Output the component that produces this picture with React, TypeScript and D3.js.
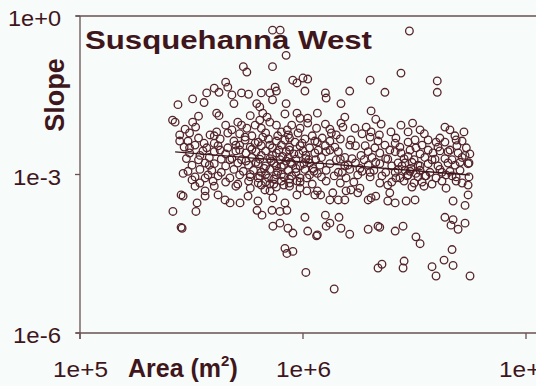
import React from "react";
import { scaleLog, line } from "d3";

// [area m², slope]
const upperPoints: [number, number][] = [
  [7.3e5, 5.4e-1], [7.9e5, 5.4e-1], [8.4e5, 1.8e-1], [7.3e5, 1.1e-1], [5.4e5, 1.1e-1],
  [5.6e5, 8.7e-2], [4.5e5, 5.6e-2], [4.6e5, 4.5e-2], [4.0e5, 4.3e-2], [4.2e5, 3.6e-2],
  [3.7e5, 3.5e-2], [3.2e5, 2.7e-2], [3.6e5, 2.3e-2], [2.75e5, 2.1e-2], [4.8e5, 3.2e-2],
  [4.9e5, 2.2e-2], [5.3e5, 3.5e-2], [5.7e5, 3.3e-2], [6.5e5, 3.5e-2], [7.1e5, 3.5e-2],
  [7.5e5, 4.5e-2], [7.6e5, 3.8e-2], [9.0e5, 6.1e-2], [9.4e5, 5.4e-2], [1.0e6, 6.7e-2],
  [1.05e6, 6.4e-2], [1.02e6, 3.8e-2], [6.2e5, 2.2e-2], [6.4e5, 1.9e-2], [7.3e5, 2.6e-2],
  [8.4e5, 2.2e-2], [4.1e5, 1.45e-2], [4.2e5, 1.3e-2], [3.4e5, 1.27e-2], [3.2e5, 9.8e-3],
  [2.6e5, 1.07e-2], [2.67e5, 9.8e-3], [5.8e5, 1.3e-2], [6.6e5, 1.45e-2], [6.9e5, 1.22e-2],
  [8.3e5, 1.4e-2], [9.4e5, 1.45e-2], [9.7e5, 1.16e-2], [1.05e6, 1.16e-2], [2.8e5, 4.3e-3],
  [3.0e6, 5.2e-1], [2.75e6, 8.3e-2], [2.0e6, 6.1e-2], [4.0e6, 5.9e-2], [4.0e6, 3.6e-2],
  [1.26e6, 3.5e-2], [1.27e6, 2.8e-2], [1.62e6, 3.8e-2], [2.33e6, 3.6e-2], [1.48e6, 2.2e-2],
  [1.16e6, 1.45e-2], [1.54e6, 1.22e-2], [1.48e6, 9.4e-3], [1.51e6, 7.9e-3], [1.26e6, 9.0e-3],
  [2.02e6, 1.6e-2], [2.12e6, 1.11e-2], [2.24e6, 9.0e-3], [1.92e6, 7.9e-3], [2.02e6, 6.4e-3],
  [2.0e6, 5.1e-3], [2.75e6, 8.6e-3], [3.1e6, 9.4e-3], [2.96e6, 6.4e-3], [2.48e6, 6.4e-3],
  [2.61e6, 4.9e-3], [4.56e6, 7.0e-3], [5.27e6, 6.4e-3], [5.6e6, 2.45e-3], [1.34e6, 6.1e-3],
  [1.41e6, 5.6e-3], [1.64e6, 4.5e-3], [1.72e6, 3.5e-3], [1.62e6, 3.6e-3], [1.22e6, 4.9e-3],
  [1.16e6, 4.1e-3], [2.33e6, 3.6e-3], [2.59e6, 3.9e-3], [2.45e6, 2.9e-3], [2.96e6, 4.1e-3],
  [3.21e6, 3.2e-3], [3.64e6, 4.5e-3], [3.95e6, 4.1e-3], [4.33e6, 4.1e-3], [4.11e6, 4.9e-3],
  [3.64e6, 2.9e-3], [3.83e6, 2.55e-3], [4.56e6, 2.9e-3], [1.96e6, 2.7e-3], [2.1e6, 3.2e-3],
  [1.82e6, 2.3e-3], [1.44e6, 2.7e-3], [1.54e6, 2.1e-3], [2.75e6, 2.55e-3], [2.96e6, 2.2e-3],
  [3.83e5, 5.6e-3], [4.1e5, 6.4e-3], [4.5e5, 8.6e-3], [4.6e5, 6.1e-3], [5.1e5, 9.8e-3],
  [5.3e5, 8.6e-3], [5.6e5, 7.5e-3], [6.1e5, 8.6e-3], [6.4e5, 1.07e-2], [7.1e5, 9.8e-3],
  [7.6e5, 8.6e-3], [8.0e5, 6.4e-3], [8.9e5, 8.6e-3], [9.7e5, 7.5e-3], [1.05e6, 9.4e-3],
  [1.15e6, 7.5e-3], [3.6e5, 3.9e-3], [4.0e5, 3.9e-3], [3.4e5, 4.9e-3], [3.1e5, 3.2e-3],
  [3.7e5, 3.2e-3],
];

const corePoints: [number, number][] = [
  [2.96e5, 7.2e-3], [3.3e5, 7.9e-3], [4.8e5, 7.0e-3], [6.5e5, 7.5e-3], [8.5e5, 7.0e-3],
  [1.32e6, 7.2e-3], [1.71e6, 7.5e-3], [3.35e6, 7.0e-3], [4.33e6, 7.9e-3],
  [2.8e5, 5.6e-3], [3.1e5, 6.1e-3], [4.0e5, 5.4e-3], [5.2e5, 5.9e-3], [5.9e5, 5.4e-3],
  [6.8e5, 6.1e-3], [8.6e5, 5.6e-3], [9.5e5, 6.1e-3], [1.1e6, 5.4e-3], [1.84e6, 5.9e-3],
  [2.2e6, 5.6e-3], [3.5e6, 5.9e-3], [4.8e6, 5.4e-3],
  [3.05e5, 4.3e-3], [4.25e5, 4.7e-3], [4.9e5, 4.3e-3], [5.5e5, 4.5e-3], [6.3e5, 4.1e-3],
  [7.0e5, 4.7e-3], [7.6e5, 4.3e-3], [8.3e5, 4.5e-3], [9.2e5, 4.1e-3], [1.02e6, 4.7e-3],
  [1.32e6, 4.3e-3], [1.47e6, 4.7e-3], [2.17e6, 4.3e-3], [3.18e6, 4.5e-3], [5.17e6, 4.3e-3],
  [2.93e5, 3.3e-3], [3.28e5, 3.6e-3], [4.16e5, 3.5e-3], [4.6e5, 3.2e-3], [5.2e5, 3.6e-3],
  [5.8e5, 3.3e-3], [6.5e5, 3.5e-3], [7.3e5, 3.2e-3], [8.0e5, 3.6e-3], [8.7e5, 3.3e-3],
  [9.7e5, 3.5e-3], [1.07e6, 3.2e-3], [1.26e6, 3.5e-3], [1.39e6, 3.3e-3], [1.9e6, 3.5e-3],
  [2.72e6, 3.3e-3], [3.42e6, 3.6e-3], [4.9e6, 3.5e-3], [5.4e6, 3.2e-3],
  [3.1e5, 2.55e-3], [3.56e5, 2.8e-3], [4.0e5, 2.7e-3], [4.5e5, 2.45e-3], [5.0e5, 2.8e-3],
  [5.55e5, 2.55e-3], [6.15e5, 2.7e-3], [6.8e5, 2.8e-3], [7.6e5, 2.55e-3], [8.4e5, 2.7e-3],
  [9.1e5, 2.45e-3], [1.0e6, 2.8e-3], [1.13e6, 2.55e-3], [1.27e6, 2.7e-3], [2.21e6, 2.55e-3],
  [2.59e6, 2.7e-3], [3.35e6, 2.45e-3], [4.11e6, 2.8e-3], [4.96e6, 2.55e-3], [5.33e6, 2.3e-3],
  [3.0e5, 2.0e-3], [3.4e5, 1.9e-3], [3.8e5, 2.1e-3], [4.3e5, 1.95e-3], [4.8e5, 2.0e-3],
  [5.3e5, 1.9e-3], [5.9e5, 2.1e-3], [6.4e5, 1.95e-3], [7.1e5, 2.0e-3], [7.9e5, 1.9e-3],
  [8.6e5, 2.1e-3], [9.3e5, 1.95e-3], [1.03e6, 2.0e-3], [1.14e6, 1.9e-3], [1.21e6, 2.1e-3],
  [1.47e6, 1.95e-3], [1.66e6, 2.0e-3], [1.88e6, 1.9e-3], [2.04e6, 2.1e-3], [2.4e6, 1.95e-3],
  [2.84e6, 2.0e-3], [3.15e6, 1.9e-3], [3.52e6, 2.1e-3], [3.91e6, 1.95e-3], [4.33e6, 2.0e-3],
  [4.66e6, 1.9e-3], [5.17e6, 2.1e-3],
  [3.18e5, 1.5e-3], [3.64e5, 1.65e-3], [4.0e5, 1.6e-3], [4.5e5, 1.45e-3], [5.1e5, 1.65e-3],
  [5.7e5, 1.5e-3], [6.3e5, 1.6e-3], [6.8e5, 1.45e-3], [7.4e5, 1.65e-3], [8.2e5, 1.5e-3],
  [8.9e5, 1.6e-3], [9.7e5, 1.45e-3], [1.07e6, 1.65e-3], [1.19e6, 1.5e-3], [1.32e6, 1.6e-3],
  [1.54e6, 1.45e-3], [1.72e6, 1.65e-3], [1.96e6, 1.5e-3], [2.21e6, 1.6e-3], [2.5e6, 1.45e-3],
  [2.87e6, 1.65e-3], [3.28e6, 1.5e-3], [3.64e6, 1.6e-3], [4.03e6, 1.45e-3], [4.47e6, 1.65e-3],
  [4.81e6, 1.5e-3], [5.5e6, 1.6e-3],
  [3.05e5, 1.15e-3], [3.45e5, 1.25e-3], [3.9e5, 1.2e-3], [4.3e5, 1.1e-3], [4.9e5, 1.25e-3],
  [5.4e5, 1.15e-3], [6.0e5, 1.2e-3], [6.5e5, 1.1e-3], [7.1e5, 1.25e-3], [7.7e5, 1.15e-3],
  [8.6e5, 1.2e-3], [9.3e5, 1.1e-3], [1.02e6, 1.25e-3], [1.12e6, 1.15e-3], [1.27e6, 1.2e-3],
  [1.44e6, 1.1e-3], [1.62e6, 1.25e-3], [1.84e6, 1.15e-3], [2.08e6, 1.2e-3], [2.35e6, 1.1e-3],
  [2.67e6, 1.25e-3], [3.02e6, 1.15e-3], [3.35e6, 1.2e-3], [3.71e6, 1.1e-3], [4.11e6, 1.25e-3],
  [4.56e6, 1.15e-3], [5.06e6, 1.2e-3],
  [3.28e5, 9.0e-4], [3.75e5, 9.8e-4], [4.16e5, 9.4e-4], [4.7e5, 8.6e-4], [5.2e5, 9.8e-4],
  [5.8e5, 9.0e-4], [6.4e5, 9.4e-4], [7.0e5, 8.6e-4], [7.6e5, 9.8e-4], [8.2e5, 9.0e-4],
  [8.9e5, 9.4e-4], [9.7e5, 8.6e-4], [1.07e6, 9.8e-4], [1.21e6, 9.0e-4], [1.38e6, 9.4e-4],
  [1.56e6, 8.6e-4], [1.76e6, 9.8e-4], [2.0e6, 9.0e-4], [2.26e6, 9.4e-4], [2.61e6, 8.6e-4],
  [2.96e6, 9.8e-4], [3.28e6, 9.0e-4], [3.56e6, 9.4e-4], [3.95e6, 8.6e-4], [4.38e6, 9.8e-4],
  [4.86e6, 9.0e-4],
  [3.45e5, 6.9e-4], [3.95e5, 7.5e-4], [4.5e5, 7.2e-4], [5.1e5, 6.6e-4], [5.7e5, 7.5e-4],
  [6.3e5, 6.9e-4], [6.8e5, 7.2e-4], [7.4e5, 6.6e-4], [8.0e5, 7.5e-4], [8.7e5, 6.9e-4],
  [9.7e5, 7.2e-4], [1.1e6, 6.6e-4], [1.27e6, 7.5e-4], [1.47e6, 6.9e-4], [1.69e6, 7.2e-4],
  [2.21e6, 6.9e-4], [2.5e6, 7.2e-4], [2.84e6, 7.5e-4], [3.15e6, 6.9e-4], [3.42e6, 7.2e-4],
  [3.79e6, 6.6e-4], [4.2e6, 7.5e-4], [5.17e6, 6.9e-4],
  [5.0e5, 6.0e-4], [5.8e5, 5.5e-4], [6.5e5, 6.3e-4], [7.6e5, 5.8e-4], [8.7e5, 6.0e-4],
  [9.7e5, 5.5e-4], [3.08e6, 5.8e-4], [3.49e6, 6.0e-4],
  [7.8e5, 2.9e-3], [8.1e5, 2.2e-3], [8.8e5, 1.7e-3], [9.6e5, 2.45e-3], [1.06e6, 1.9e-3],
  [1.11e6, 1.3e-3], [8.0e5, 1.4e-3], [7.2e5, 1.8e-3], [1.17e6, 2.9e-3], [1.16e6, 1.05e-3],
  [2.78e6, 1.45e-3], [3.05e6, 1.3e-3], [2.93e6, 9.4e-4], [3.21e6, 1.05e-3], [2.72e6, 8.6e-4],
  [2.59e6, 1.1e-3],
];

// the darkest, most crowded part of the cloud
const densePoints: [number, number][] = [
  [5.5e5, 5.1e-3], [6.1e5, 3.9e-3], [6.6e5, 5.1e-3], [7.1e5, 3.6e-3], [7.7e5, 5.4e-3],
  [8.7e5, 4.9e-3], [9.9e5, 3.9e-3], [1.13e6, 4.3e-3], [5.2e5, 2.9e-3], [5.9e5, 3.0e-3],
  [6.5e5, 2.3e-3], [7.3e5, 2.3e-3], [8.7e5, 2.9e-3], [1.03e6, 2.3e-3], [5.55e5, 1.8e-3],
  [6.15e5, 1.7e-3], [6.7e5, 1.3e-3], [7.6e5, 1.45e-3], [8.4e5, 1.8e-3], [9.3e5, 1.3e-3],
  [1.01e6, 1.6e-3], [5.8e5, 1.0e-3], [6.3e5, 8.6e-4], [6.8e5, 1.0e-3], [7.4e5, 8.2e-4],
  [8.0e5, 1.0e-3], [8.7e5, 8.2e-4], [7.1e5, 6.6e-4], [8.2e5, 6.3e-4], [4.7e5, 1.9e-3],
  [4.25e5, 2.9e-3], [5.0e5, 3.6e-3], [3.8e5, 1.5e-3], [3.45e5, 2.3e-3], [3.64e5, 8.6e-4],
  [4.0e5, 6.0e-4], [1.41e6, 1.9e-3], [1.59e6, 1.5e-3], [1.5e6, 1.1e-3], [1.8e6, 1.3e-3],
  [1.32e6, 2.9e-3], [3.02e6, 2.9e-3], [3.08e6, 1.7e-3], [3.35e6, 1.45e-3], [2.87e6, 1.2e-3],
  [3.52e6, 9.4e-4], [2.67e6, 1.65e-3], [3.79e6, 1.9e-3], [4.2e6, 1.1e-3], [4.66e6, 9.4e-4],
  [5.06e6, 1.7e-3], [4.47e6, 2.7e-3], [4.03e6, 3.3e-3], [4.86e6, 4.5e-3], [2.35e6, 2.0e-3],
  [2.12e6, 1.7e-3], [2.0e6, 1.1e-3],
];

const lowerPoints: [number, number][] = [
  [2.9e5, 1.05e-3], [3.18e5, 7.9e-4], [3.28e5, 6.0e-4], [2.84e5, 4.1e-4], [2.9e5, 3.9e-4],
  [3.35e5, 2.9e-4], [3.64e5, 3.9e-4], [3.64e5, 4.9e-4], [4.16e5, 4.1e-4], [4.47e5, 3.3e-4],
  [4.71e5, 2.9e-4], [5.22e5, 2.9e-4], [5.67e5, 3.9e-4], [6.28e5, 3.15e-4], [7.33e5, 3.6e-4],
  [6.75e5, 5.1e-4], [7.11e5, 4.9e-4], [9.39e5, 4.1e-4], [1.04e6, 4.9e-4], [1.13e6, 4.1e-4],
  [9.4e5, 7.5e-4], [1.04e6, 8.6e-4], [1.32e6, 3.3e-4], [1.44e6, 3.3e-4], [1.54e6, 3.3e-4],
  [1.56e6, 4.9e-4], [1.64e6, 5.1e-4], [1.8e6, 5.5e-4], [1.76e6, 4.5e-4], [1.36e6, 4.5e-4],
  [1.2e6, 4.1e-4], [1.16e6, 4.9e-4], [1.96e6, 3.3e-4], [2.12e6, 3.9e-4], [2.02e6, 3.6e-4],
  [2.4e6, 6.3e-4], [2.45e6, 4.5e-4], [2.4e6, 3.15e-4], [2.59e6, 2.9e-4], [2.9e6, 3.15e-4],
  [3.18e6, 3.3e-4], [4.38e6, 5.5e-4], [4.86e6, 7.5e-4], [5.5e6, 6.3e-4], [5.5e6, 4.1e-4],
  [4.71e6, 3.15e-4], [5.33e6, 2.6e-4], [5.55e6, 1.65e-3], [5.55e6, 9.0e-4],
  [2.61e5, 2.0e-4], [3.31e5, 2.0e-4], [2.84e5, 1.0e-4], [2.87e5, 9.6e-5], [6.22e5, 2.1e-4],
  [6.55e5, 1.7e-4], [7.26e5, 2.1e-4], [7.88e5, 2.0e-4], [8.3e5, 2.9e-4], [8.47e5, 2.1e-4],
  [7.33e5, 1.05e-4], [7.88e5, 1.2e-4], [8.56e5, 9.6e-5], [9.01e5, 7.8e-5], [1.02e6, 1.55e-4],
  [1.05e6, 8.5e-5], [1.15e6, 6.9e-5], [8.3e5, 4.0e-5], [8.47e5, 3.2e-5], [9.01e5, 3.5e-5],
  [1.03e6, 1.4e-5], [1.38e6, 6.8e-6], [1.26e6, 1.7e-4], [1.27e6, 1.05e-4], [1.32e6, 1.2e-4],
  [1.45e6, 1.55e-4], [1.48e6, 9.6e-5], [1.62e6, 7.4e-5], [1.16e6, 7.2e-5], [1.96e6, 9.2e-5],
  [2.17e6, 1.05e-4], [2.21e6, 1.0e-4], [2.59e6, 8.5e-5], [2.81e6, 1.05e-4], [3.21e6, 6.6e-5],
  [3.35e6, 4.9e-5], [4.33e6, 1.55e-4], [4.71e6, 1.4e-4], [4.61e6, 1.1e-4], [4.96e6, 9.2e-5],
  [5.33e6, 1.2e-4], [4.66e6, 3.8e-5], [2.17e6, 1.7e-5], [2.26e6, 2.0e-5], [2.81e6, 1.7e-5],
  [2.84e6, 2.3e-5], [3.79e6, 1.8e-5], [3.95e6, 1.2e-5], [4.29e6, 2.4e-5], [4.71e6, 1.9e-5],
  [5.61e6, 1.2e-5],
];

const xTicks = [1e5, 1e6, 1e7];
const xTickLabels = ["1e+5", "1e+6", "1e+7"];
const yTicks = [1e0, 1e-3, 1e-6];
const yTickLabels = ["1e+0", "1e-3", "1e-6"];

// power-law fit: slope = c * area^b
const fitC = 0.165;
const fitB = -0.33;
const fitRange = [2.67e5, 5.6e6];

const INK = "#3e161b";
const DOT = "#55252b";
const AXIS = "#6a5052";

export default function App() {
  const x = scaleLog().domain([1e5, 1e7]).range([80, 526]);
  const y = scaleLog().domain([1e-6, 1]).range([333, 16]);
  const points = [...upperPoints, ...corePoints, ...densePoints, ...lowerPoints];

  const fitPath = line<number>()
    .x((a) => x(a))
    .y((a) => y(fitC * Math.pow(a, fitB)))(fitRange);

  const font = "'Liberation Sans', Arial, sans-serif";

  return (
    <svg
      width={536}
      height={386}
      style={{ position: "absolute", left: 0, top: 0 }}
      fontFamily={font}
    >
      <rect width={536} height={386} fill="#f7fbf9" />

      {/* frame lines */}
      <line x1={76} x2={536} y1={16} y2={16} stroke={AXIS} strokeWidth={1.3} />
      <line x1={76} x2={536} y1={333} y2={333} stroke={AXIS} strokeWidth={1.3} />
      <line x1={80} x2={80} y1={16} y2={339} stroke={AXIS} strokeWidth={1.3} />

      {yTicks.map((t, i) => (
        <g key={"y" + i}>
          <line x1={75} x2={80} y1={y(t)} y2={y(t)} stroke={AXIS} strokeWidth={1.3} />
          <text
            x={61}
            y={y(t) + 10}
            textAnchor="end"
            fontSize={22}
            fill={INK}
            textLength={i === 0 ? 53 : 48}
            lengthAdjust="spacingAndGlyphs"
          >
            {yTickLabels[i]}
          </text>
        </g>
      ))}

      {xTicks.map((t, i) => (
        <g key={"x" + i}>
          <line x1={x(t)} x2={x(t)} y1={333} y2={339} stroke={AXIS} strokeWidth={1.3} />
          <text
            x={x(t) - 27}
            y={377}
            fontSize={22}
            fill={INK}
            textLength={55}
            lengthAdjust="spacingAndGlyphs"
          >
            {xTickLabels[i]}
          </text>
        </g>
      ))}

      {points.map((p, i) => (
        <circle
          key={i}
          cx={x(p[0])}
          cy={y(p[1])}
          r={3.8}
          fill="none"
          stroke={DOT}
          strokeWidth={1.3}
        />
      ))}

      <path d={fitPath ?? ""} fill="none" stroke={INK} strokeWidth={1.3} />

      <text
        x={85}
        y={49}
        fontSize={25}
        fontWeight="bold"
        fill={INK}
        textLength={287}
        lengthAdjust="spacingAndGlyphs"
      >
        Susquehanna West
      </text>

      <text
        transform="translate(64,95) rotate(-90)"
        textAnchor="middle"
        fontSize={27}
        fontWeight="bold"
        fill={INK}
      >
        Slope
      </text>

      <text x={128} y={377} fontSize={25} fontWeight="bold" fill={INK}>
        Area (m
        <tspan fontSize={15} dy={-11}>
          2
        </tspan>
        <tspan dy={11}>)</tspan>
      </text>
    </svg>
  );
}
